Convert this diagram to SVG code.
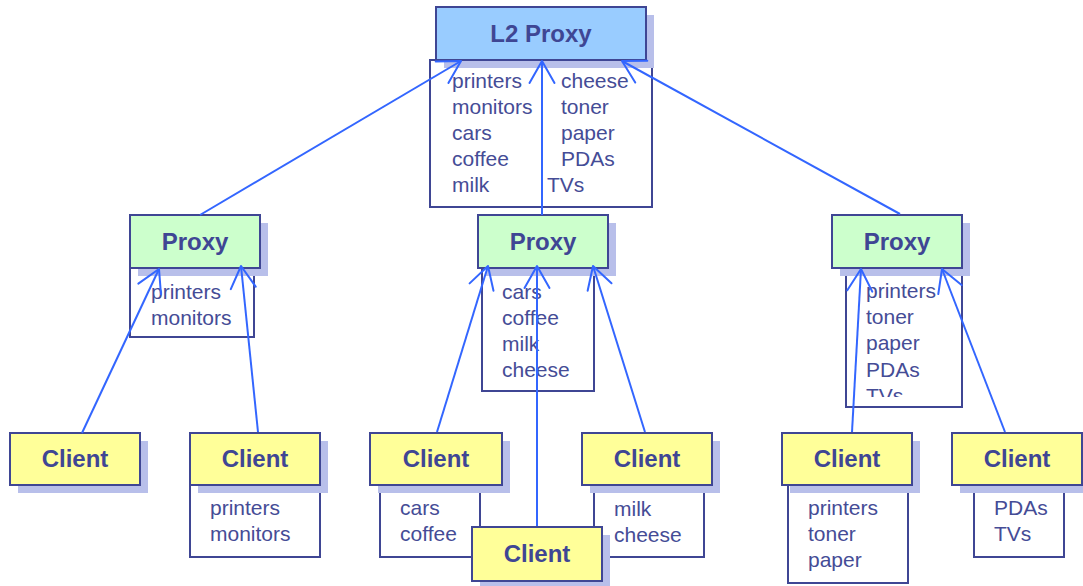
<svg xmlns="http://www.w3.org/2000/svg" width="1083" height="586" viewBox="0 0 1083 586">
  <style>
    .box { stroke: #3f4694; stroke-width: 2; }
    .shadow { fill: #b8bfea; stroke: none; }
    .list { fill: #ffffff; stroke: #3f4694; stroke-width: 2; }
    .l2 { fill: #99ccff; }
    .proxy { fill: #ccffcc; }
    .client { fill: #ffff99; }
    .title { font-family: "Liberation Sans", Arial, sans-serif; font-weight: bold; font-size: 24px; fill: #3f4694; text-anchor: middle; }
    .item { font-family: "Liberation Sans", Arial, sans-serif; font-size: 21px; fill: #454c96; }
    .conn { fill: none; stroke: #3366ff; stroke-width: 2; marker-end: url(#arrow); }
  </style>
  <defs>
    <marker id="arrow" markerUnits="userSpaceOnUse" markerWidth="60" markerHeight="60" viewBox="-30 -30 60 60" refX="0" refY="0" orient="auto">
      <path d="M-22,-12.5 L0,0 L-22,12.5" fill="none" stroke="#3366ff" stroke-width="2" stroke-linejoin="round" stroke-linecap="round"/>
    </marker>
    <clipPath id="clipRightProxy">
      <rect x="846" y="268" width="116" height="129"/>
    </clipPath>
  </defs>

  <rect width="1083" height="586" fill="#ffffff"/>

  <!-- top level proxy -->
  <g id="l2-proxy">
    <rect class="list" x="430" y="60" width="222" height="147"/>
    <rect class="shadow" x="444" y="15" width="210" height="53"/>
    <rect class="box l2" x="436" y="7" width="210" height="53"/>
    <text class="title" x="541" y="42">L2 Proxy</text>
    <text class="item" x="452" y="88">printers</text>
    <text class="item" x="452" y="114">monitors</text>
    <text class="item" x="452" y="140">cars</text>
    <text class="item" x="452" y="166">coffee</text>
    <text class="item" x="452" y="192">milk</text>
    <text class="item" x="561" y="88">cheese</text>
    <text class="item" x="561" y="114">toner</text>
    <text class="item" x="561" y="140">paper</text>
    <text class="item" x="561" y="166">PDAs</text>
    <text class="item" x="547" y="192">TVs</text>
  </g>

  <!-- second level proxies -->
  <g id="proxy-left">
    <rect class="list" x="130" y="268" width="124" height="69"/>
    <rect class="shadow" x="138" y="223" width="130" height="53"/>
    <rect class="box proxy" x="130" y="215" width="130" height="53"/>
    <text class="title" x="195" y="250">Proxy</text>
    <text class="item" x="151" y="299">printers</text>
    <text class="item" x="151" y="325">monitors</text>
  </g>

  <g id="proxy-middle">
    <rect class="list" x="482" y="268" width="112" height="123"/>
    <rect class="shadow" x="486" y="223" width="130" height="53"/>
    <rect class="box proxy" x="478" y="215" width="130" height="53"/>
    <text class="title" x="543" y="250">Proxy</text>
    <text class="item" x="502" y="299">cars</text>
    <text class="item" x="502" y="325">coffee</text>
    <text class="item" x="502" y="351">milk</text>
    <text class="item" x="502" y="377">cheese</text>
  </g>

  <g id="proxy-right">
    <rect class="list" x="846" y="268" width="116" height="139"/>
    <rect class="shadow" x="840" y="223" width="130" height="53"/>
    <rect class="box proxy" x="832" y="215" width="130" height="53"/>
    <text class="title" x="897" y="250">Proxy</text>
    <g clip-path="url(#clipRightProxy)">
      <text class="item" x="866" y="298">printers</text>
      <text class="item" x="866" y="324">toner</text>
      <text class="item" x="866" y="350">paper</text>
      <text class="item" x="866" y="377">PDAs</text>
      <text class="item" x="866" y="403">TVs</text>
    </g>
  </g>

  <!-- clients -->
  <g id="client-1">
    <rect class="shadow" x="18" y="441" width="130" height="52"/>
    <rect class="box client" x="10" y="433" width="130" height="52"/>
    <text class="title" x="75" y="467">Client</text>
  </g>

  <g id="client-2">
    <rect class="list" x="190" y="485" width="130" height="72"/>
    <rect class="shadow" x="198" y="441" width="130" height="52"/>
    <rect class="box client" x="190" y="433" width="130" height="52"/>
    <text class="title" x="255" y="467">Client</text>
    <text class="item" x="210" y="515">printers</text>
    <text class="item" x="210" y="541">monitors</text>
  </g>

  <g id="client-3">
    <rect class="list" x="380" y="485" width="100" height="72"/>
    <rect class="shadow" x="378" y="441" width="132" height="52"/>
    <rect class="box client" x="370" y="433" width="132" height="52"/>
    <text class="title" x="436" y="467">Client</text>
    <text class="item" x="400" y="515">cars</text>
    <text class="item" x="400" y="541">coffee</text>
  </g>

  <g id="client-5">
    <rect class="list" x="594" y="487" width="110" height="70"/>
    <rect class="shadow" x="590" y="441" width="130" height="52"/>
    <rect class="box client" x="582" y="433" width="130" height="52"/>
    <text class="title" x="647" y="467">Client</text>
    <text class="item" x="614" y="516">milk</text>
    <text class="item" x="614" y="542">cheese</text>
  </g>

  <g id="client-4">
    <rect class="shadow" x="480" y="535" width="130" height="54"/>
    <rect class="box client" x="472" y="527" width="130" height="54"/>
    <text class="title" x="537" y="562">Client</text>
  </g>

  <g id="client-6">
    <rect class="list" x="788" y="485" width="120" height="98"/>
    <rect class="shadow" x="790" y="441" width="130" height="52"/>
    <rect class="box client" x="782" y="433" width="130" height="52"/>
    <text class="title" x="847" y="467">Client</text>
    <text class="item" x="808" y="515">printers</text>
    <text class="item" x="808" y="541">toner</text>
    <text class="item" x="808" y="567">paper</text>
  </g>

  <g id="client-7">
    <rect class="list" x="974" y="485" width="90" height="72"/>
    <rect class="shadow" x="960" y="441" width="130" height="52"/>
    <rect class="box client" x="952" y="433" width="130" height="52"/>
    <text class="title" x="1017" y="467">Client</text>
    <text class="item" x="994" y="515">PDAs</text>
    <text class="item" x="994" y="541">TVs</text>
  </g>

  <!-- links, each pointing up toward the parent proxy -->
  <g id="connectors">
    <line class="conn" x1="200" y1="215" x2="461" y2="61"/>
    <line class="conn" x1="542" y1="215" x2="542" y2="61"/>
    <line class="conn" x1="900" y1="214" x2="622" y2="61"/>
    <line class="conn" x1="82" y1="433" x2="159" y2="269"/>
    <line class="conn" x1="258" y1="432" x2="241" y2="266"/>
    <line class="conn" x1="437" y1="432" x2="488" y2="266"/>
    <line class="conn" x1="537" y1="526" x2="537" y2="266"/>
    <line class="conn" x1="645" y1="432" x2="593" y2="266"/>
    <line class="conn" x1="852" y1="432" x2="861" y2="269"/>
    <line class="conn" x1="1005" y1="432" x2="942" y2="269"/>
  </g>
</svg>
